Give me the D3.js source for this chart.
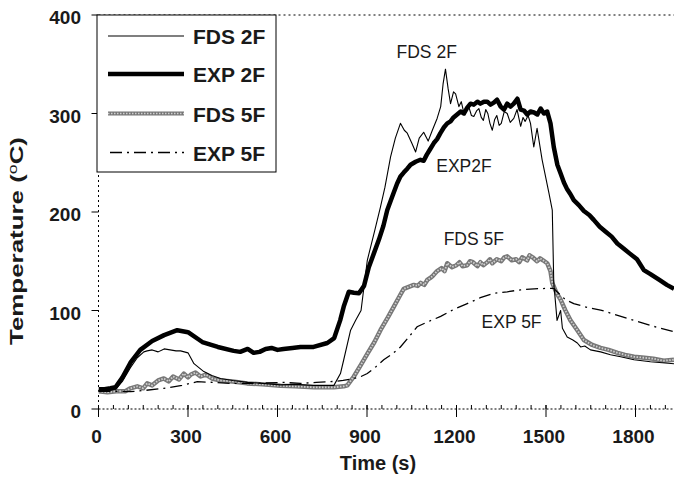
<!DOCTYPE html>
<html>
<head>
<meta charset="utf-8">
<script src="https://cdn.jsdelivr.net/npm/d3@7"></script>
<style>
  html, body { margin: 0; padding: 0; background: #fff; }
  svg { display: block; font-family: "Liberation Sans", Arial, sans-serif; }
</style>
</head>
<body>
<div id="chart"></div>
<script>
'use strict';

// values (time in s, temperature in deg C)
var fds2fTime = [0,40,57,80,107,130,152,163,180,200,220,240,260,275,300,320,353,380,409,450,500,550,610,660,720,789,811,822,845,862,880,901,925,945,960,979,995,1012,1025,1035,1050,1063,1075,1090,1105,1119,1135,1147,1155,1163,1172,1180,1190,1197,1208,1216,1225,1232,1240,1250,1258,1268,1275,1283,1290,1298,1305,1312,1320,1328,1335,1343,1350,1360,1370,1380,1392,1403,1415,1423,1430,1440,1448,1459,1470,1487,1510,1521,1526,1537,1549,1555,1571,1590,1605,1616,1630,1649,1683,1716,1750,1795,1850,1929];
var fds2fTemp = [19,19,20,28,42,52,58,59,60,58,61,60,59,59,57,46,38,34,31,29,27,26,24.5,25,24,24,36,50,80,90,100,151,180,205,225,256,275,290,283,280,270,261,275,281,272,283,295,307,330,345,325,310,322,320,307,312,300,306,308,298,297,303,305,296,293,304,300,290,283,294,298,288,290,302,300,291,295,304,287,296,292,298,290,266,285,253,219,202,128,90,100,82,73,70,67,63,64,60,58,55,53,50,48,46];

var exp2fTime = [0,20,40,57,80,107,140,180,220,264,300,348,400,453,475,500,520,540,560,580,600,620,650,677,721,767,790,810,822,839,856,873,890,906,923,940,955,968,985,1001,1012,1023,1035,1046,1063,1079,1090,1100,1112,1124,1135,1146,1158,1169,1180,1190,1202,1214,1225,1236,1247,1258,1270,1280,1292,1303,1314,1325,1336,1348,1359,1370,1381,1392,1404,1415,1426,1437,1448,1460,1471,1482,1493,1504,1515,1526,1538,1549,1560,1571,1582,1593,1610,1627,1645,1660,1680,1700,1720,1739,1760,1780,1805,1828,1850,1880,1905,1929];
var exp2fTemp = [20,20,21,22,32,47,60,69,75,80,78,68,63,59,58,61,57,58,61,62,60,61,62,63,63,67,72,90,104,119,118,117.5,125,144,158,172,186,202,216,229,236,240,244,248,251,253,252,258,264,270,274,280,286,290,292,296,299,302,300,306,310,309,312,310,312,312,309,311,314,307,304,310,307,310,315,304,303,299,302,301,299,305,300,302,290,266,248,239,230,223,218,212,207,201,197,192,185,180,175,168,163,158,152,141,137,131,126,122];

var fds5fTime = [0,30,60,90,107,130,150,163,180,200,219,235,250,270,286,300,310,325,342,360,380,409,450,498,550,610,660,722,789,822,834,856,880,901,925,945,970,990,1010,1023,1040,1057,1070,1080,1092,1102,1112,1120,1135,1150,1160,1169,1185,1200,1210,1220,1236,1245,1255,1270,1280,1290,1303,1312,1320,1335,1350,1360,1370,1385,1400,1410,1420,1437,1445,1455,1470,1480,1490,1504,1515,1521,1535,1549,1565,1582,1605,1627,1655,1683,1710,1740,1765,1795,1830,1860,1895,1929];
var fds5fTemp = [18,17,18,18,21,23,21,26,24,29,31,28,33,30,36,32,35,37,33,35,31,29,28,26,25,23.5,23,22,22,23,24,33,45,56,68,80,93,104,115,122,124,126,125,128,126,131,133,135,140,143,140,148,144,146,149,145,146,150,149,145,149,146,149,152,148,152,150,154,155,151,152,149,154,151,156,154,150,153,151,148,140,128,118,111,100,90,80,70,65,62,60,57,55,53,52,51,49,50];

var exp5fTime = [0,60,107,160,219,280,331,390,443,500,560,620,677,730,789,820,856,880,901,930,956,985,1012,1040,1068,1100,1147,1190,1236,1280,1325,1370,1415,1460,1510,1526,1537,1565,1593,1640,1683,1740,1795,1860,1929];
var exp5fTemp = [18,18,17.6,19,21,24,27.7,27,26,26,26.5,27,26,27,28,29,31,33,36,43,50,56,63,73,83.5,88,94,101,107,113,117.5,119,121,122,122.5,122.5,119,111,107,103,100.5,95,90,84,78.5];

var xTicks = [0, 300, 600, 900, 1200, 1500, 1800];
var yTicks = [0, 100, 200, 300, 400];
var legendNames = ['FDS 2F', 'EXP 2F', 'FDS 5F', 'EXP 5F'];

// in-plot labels: [text, time, temperature]
var notes = [
  ['FDS 2F', 999, 356],
  ['EXP2F', 1132, 241],
  ['FDS 5F', 1157, 166.5],
  ['EXP 5F', 1284, 82.5]
];

var width = 674, height = 478;
var x = d3.scaleLinear().domain([0, 1929]).range([98.5, 674]);
var y = d3.scaleLinear().domain([0, 400]).range([409, 15]);

var svg = d3.select('#chart').append('svg')
    .attr('width', width)
    .attr('height', height);

svg.append('clipPath').attr('id', 'plotClip')
  .append('rect')
    .attr('x', x(0)).attr('y', y(400))
    .attr('width', x(1929) - x(0)).attr('height', y(0) - y(400));

var zip = function(ts, vs){
  return ts.map(function(t, i){ return [t, vs[i]]; });
};

var line = d3.line()
    .x(function(d){ return x(d[0]); })
    .y(function(d){ return y(d[1]); });

// frame: dotted top and left, dotted x axis
svg.append('line')
    .attr('x1', x(0)).attr('x2', width)
    .attr('y1', y(400)).attr('y2', y(400))
    .attr('stroke', '#000').attr('stroke-dasharray', '2,3');
svg.append('line')
    .attr('x1', x(0)).attr('x2', x(0))
    .attr('y1', y(400)).attr('y2', y(0))
    .attr('stroke', '#000').attr('stroke-dasharray', '2,3');
svg.append('line')
    .attr('x1', x(0)).attr('x2', width)
    .attr('y1', y(0)).attr('y2', y(0))
    .attr('stroke', '#000').attr('stroke-dasharray', '2,2');

// minor x ticks every 50 s
svg.append('g').selectAll('line')
    .data(d3.range(50, 1929, 50))
  .enter().append('line')
    .attr('x1', function(d){ return x(d); })
    .attr('x2', function(d){ return x(d); })
    .attr('y1', y(0) - 4).attr('y2', y(0))
    .attr('stroke', '#000');

// major x ticks + labels
var xg = svg.append('g');
xg.selectAll('line')
    .data(xTicks)
  .enter().append('line')
    .attr('x1', function(d){ return x(d); })
    .attr('x2', function(d){ return x(d); })
    .attr('y1', y(0) - 4).attr('y2', y(0) + 8)
    .attr('stroke', '#000');
xg.selectAll('text')
    .data(xTicks)
  .enter().append('text')
    .attr('x', function(d){ return x(d) - 2; })
    .attr('y', 443)
    .attr('text-anchor', 'middle')
    .style('font-size', '19px').style('font-weight', 'bold')
    .style('fill', '#1a1a1a')
    .text(function(d){ return d; });

// y ticks + labels
var yg = svg.append('g');
yg.selectAll('line')
    .data(yTicks)
  .enter().append('line')
    .attr('x1', x(0) - 7).attr('x2', x(0))
    .attr('y1', function(d){ return y(d); })
    .attr('y2', function(d){ return y(d); })
    .attr('stroke', '#000');
yg.selectAll('text')
    .data(yTicks)
  .enter().append('text')
    .attr('x', 81)
    .attr('y', function(d){ return y(d) + 9; })
    .attr('text-anchor', 'end')
    .style('font-size', '19px').style('font-weight', 'bold')
    .style('fill', '#1a1a1a')
    .text(function(d){ return d; });

// axis titles
svg.append('text')
    .attr('x', 378).attr('y', 469.5)
    .attr('text-anchor', 'middle')
    .style('font-size', '20px').style('font-weight', 'bold')
    .style('fill', '#1a1a1a')
    .text('Time (s)');

var ylab = svg.append('text')
    .attr('transform', 'translate(23,241) rotate(-90)')
    .attr('text-anchor', 'middle')
    .attr('textLength', 208).attr('lengthAdjust', 'spacingAndGlyphs')
    .style('font-size', '19px').style('font-weight', 'bold')
    .style('fill', '#1a1a1a');
ylab.append('tspan').text('Temperature (');
ylab.append('tspan').attr('dy', -6).style('font-size', '13px').style('font-weight', 'normal').text('o');
ylab.append('tspan').attr('dy', 6).text('C)');

// series
var plot = svg.append('g').attr('clip-path', 'url(#plotClip)');

var drawFds5f = function(g, d){
  g.append('path').datum(d).attr('d', line)
      .attr('fill', 'none').attr('stroke', '#777').attr('stroke-width', 4.5)
      .attr('stroke-linejoin', 'round');
  g.append('path').datum(d).attr('d', line)
      .attr('fill', 'none').attr('stroke', '#d0d0d0').attr('stroke-width', 1.8)
      .attr('stroke-dasharray', '1.5,1.5');
};

drawFds5f(plot, zip(fds5fTime, fds5fTemp));

plot.append('path').datum(zip(exp5fTime, exp5fTemp))
    .attr('d', line)
    .attr('fill', 'none').attr('stroke', '#000').attr('stroke-width', 1.3)
    .attr('stroke-dasharray', '12,5,2,5');

plot.append('path').datum(zip(fds2fTime, fds2fTemp))
    .attr('d', line)
    .attr('fill', 'none').attr('stroke', '#000').attr('stroke-width', 1.1)
    .attr('stroke-linejoin', 'round');

plot.append('path').datum(zip(exp2fTime, exp2fTemp))
    .attr('d', line)
    .attr('fill', 'none').attr('stroke', '#000').attr('stroke-width', 4.5)
    .attr('stroke-linejoin', 'round');

// labels in the plot
svg.append('g').selectAll('text')
    .data(notes)
  .enter().append('text')
    .attr('x', function(d){ return x(d[1]); })
    .attr('y', function(d){ return y(d[2]); })
    .style('font-size', '17.5px')
    .style('fill', '#1a1a1a')
    .text(function(d){ return d[0]; });

// legend
var legend = svg.append('g');
legend.append('rect')
    .attr('x', 97).attr('y', 15)
    .attr('width', 179).attr('height', 157)
    .attr('fill', '#fff').attr('stroke', '#000');

var rowY = [36, 74, 113.5, 152.5];
legendNames.forEach(function(name, i){
  var ly = rowY[i];
  var g = legend.append('g');
  var path = 'M108,' + ly + 'L184,' + ly;
  if (i === 0){
    g.append('path').attr('d', path).attr('stroke', '#000').attr('stroke-width', 1.1);
  } else if (i === 1){
    g.append('path').attr('d', path).attr('stroke', '#000').attr('stroke-width', 4.5);
  } else if (i === 2){
    g.append('path').attr('d', path).attr('stroke', '#777').attr('stroke-width', 4);
    g.append('path').attr('d', path).attr('stroke', '#d0d0d0').attr('stroke-width', 1.6)
        .attr('stroke-dasharray', '1.5,1.5');
  } else {
    g.append('path').attr('d', 'M110,' + ly + 'L184,' + ly)
        .attr('stroke', '#000').attr('stroke-width', 1.3)
        .attr('stroke-dasharray', '12,5,2,5');
  }
  g.append('text')
      .attr('x', 193).attr('y', ly + 8)
      .style('font-size', '21px').style('font-weight', 'bold')
      .style('fill', '#1a1a1a')
      .text(name);
});
</script>
</body>
</html>
